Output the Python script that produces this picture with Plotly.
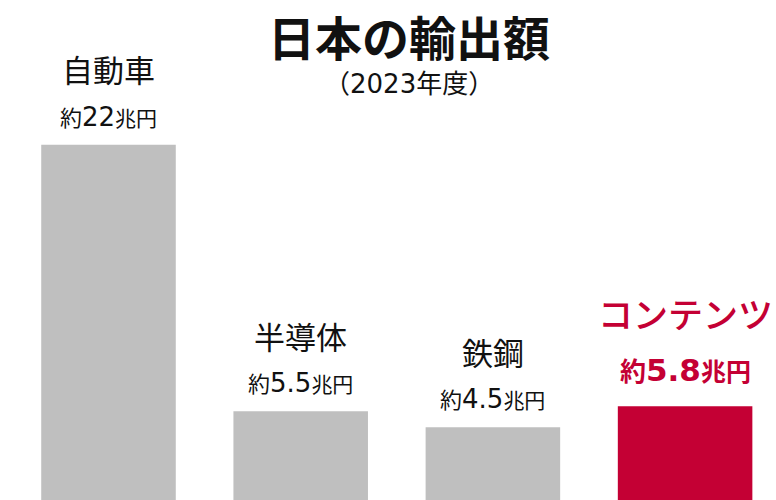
import plotly.graph_objects as go

categories = ["自動車", "半導体", "鉄鋼", "コンテンツ"]
values = [22, 5.5, 4.5, 5.8]
value_labels = ["22", "5.5", "4.5", "5.8"]
highlight = [False, False, False, True]

GRAY = "#BFBFBF"
RED = "#C40034"
FONT = "Noto Sans CJK JP"
NUMFONT = "DejaVu Sans, Noto Sans CJK JP"
W, H = 776, 500

colors = [RED if h else GRAY for h in highlight]

fig = go.Figure()
fig.add_trace(go.Bar(
    x=categories, y=values, marker=dict(color=colors, line=dict(width=0)),
    width=0.70, hoverinfo="skip",
))

annotations = []
for cat, v, lab, h in zip(categories, values, value_labels, highlight):
    if h:
        annotations.append(dict(
            x=cat, y=v, xref="x", yref="y", yanchor="middle", yshift=94,
            text=cat, showarrow=False,
            font=dict(family=FONT, size=35, color=RED, weight=500)))
        annotations.append(dict(
            x=cat, y=v, xref="x", yref="y", yanchor="middle", yshift=36,
            text=f"<span style='font-size:26px'>約</span><span style='font-size:31px'>{lab}</span><span style='font-size:25px'>兆円</span>",
            showarrow=False,
            font=dict(family=NUMFONT, size=25, color=RED, weight="bold")))
    else:
        annotations.append(dict(
            x=cat, y=v, xref="x", yref="y", yanchor="middle", yshift=76,
            text=cat, showarrow=False,
            font=dict(family=FONT, size=31, color="#111111")))
        annotations.append(dict(
            x=cat, y=v, xref="x", yref="y", yanchor="middle", yshift=28,
            text=f"<span style='font-size:22px'>約</span><span style='font-size:26px'>{lab}</span><span style='font-size:21px'>兆円</span>",
            showarrow=False,
            font=dict(family=NUMFONT, size=21, color="#111111")))

annotations.append(dict(
    x=409 / W, y=1 - 35 / H, xref="paper", yref="paper", showarrow=False,
    xanchor="center", yanchor="middle",
    text="<b>日本の輸出額</b>", font=dict(family=FONT, size=47, color="#111111")))
annotations.append(dict(
    x=409 / W, y=1 - 84 / H, xref="paper", yref="paper", showarrow=False,
    xanchor="center", yanchor="middle",
    text="（2023年度）", font=dict(family=NUMFONT, size=26, color="#111111")))

fig.update_layout(
    width=W, height=H,
    margin=dict(l=0, r=0, t=0, b=0),
    paper_bgcolor="white", plot_bgcolor="white",
    showlegend=False,
    xaxis=dict(range=[-0.5645, 3.473], visible=False, fixedrange=True),
    yaxis=dict(range=[0, 30.96], visible=False, fixedrange=True),
    annotations=annotations,
    font=dict(family=FONT),
)

fig.write_html("out.html", config={"displayModeBar": False},
               post_script="document.body.style.margin='0';document.body.style.overflow='hidden';")
